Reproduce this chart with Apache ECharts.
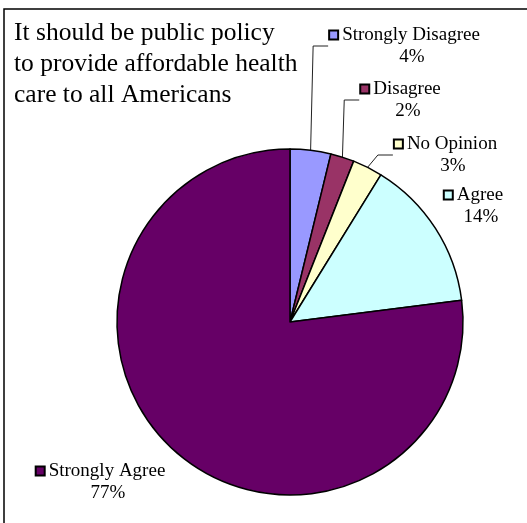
<!DOCTYPE html>
<html>
<head>
<meta charset="utf-8">
<script src="https://cdn.jsdelivr.net/npm/echarts@6/dist/echarts.min.js"></script>
<style>
html,body{margin:0;padding:0;background:#fff;}
#c{width:527px;height:523px;}
</style>
</head>
<body>
<div id="c"></div>
<script>
var categories = ['Strongly Disagree', 'Disagree', 'No Opinion', 'Agree', 'Strongly Agree'];
var values = [3.8, 2.2, 2.8, 14.2, 77];
var colors = ['#9999FF', '#993366', '#FFFFCC', '#CCFFFF', '#660066'];
var titleLines = ['It should be public policy', 'to provide affordable health', 'care to all Americans'];

var FONT = '"Liberation Serif", serif';
// label box centres (layout only)
var labelPos = [
  {x: 405, y: 46},
  {x: 401, y: 100},
  {x: 446, y: 155},
  {x: 474, y: 206},
  {x: 101, y: 482}
];
var showLine = [true, true, true, false, false];

var chart = echarts.init(document.getElementById('c'), null, {renderer: 'canvas'});

var data = categories.map(function (name, i) {
  return {
    name: name,
    value: values[i],
    itemStyle: {color: colors[i]},
    labelLine: {show: showLine[i]},
    label: {
      rich: {
        sq: {width: 7, height: 7, backgroundColor: colors[i], borderColor: '#000', borderWidth: 2}
      }
    }
  };
});

chart.setOption({
  animation: false,
  backgroundColor: '#fff',
  graphic: [
    {type: 'rect', shape: {x: 4, y: 9, width: 540, height: 530}, style: {stroke: '#000', lineWidth: 1.5, fill: null}, z: 0, silent: true},
    {type: 'text', left: 14, top: 18, style: {text: titleLines.join('\n'), font: '25.5px ' + FONT, fill: '#000', lineHeight: 31}, silent: true}
  ],
  series: [{
    type: 'pie',
    center: [290, 322],
    radius: 173,
    startAngle: 90,
    clockwise: true,
    avoidLabelOverlap: false,
    data: data,
    itemStyle: {borderColor: '#000', borderWidth: 1.5},
    label: {
      show: true,
      position: 'outside',
      formatter: function (p) { return '{sq|}{t|' + p.name + '}\n{p|' + Math.round(p.value) + '%}'; },
      fontFamily: FONT,
      fontSize: 19,
      color: '#000',
      align: 'center',
      lineHeight: 22,
      rich: {
        t: {fontFamily: FONT, fontSize: 19, color: '#000', lineHeight: 22, padding: [0, 0, 0, 5]},
        p: {fontFamily: FONT, fontSize: 19, color: '#000', lineHeight: 22, padding: [0, 0, 0, 14]}
      }
    },
    labelLine: {show: true, lineStyle: {color: '#222', width: 1}, length: 10, length2: 15},
    labelLayout: function (params) {
      var p = labelPos[params.dataIndex];
      return {x: p.x, y: p.y, align: 'center', verticalAlign: 'middle'};
    },
    emphasis: {disabled: true}
  }]
});
</script>
</body>
</html>
